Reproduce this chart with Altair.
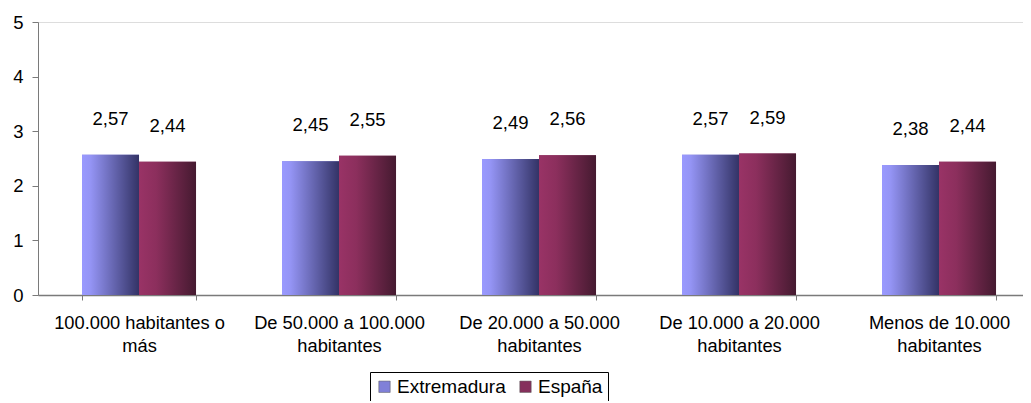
import altair as alt
import pandas as pd

categories = [
    "100.000 habitantes o|más",
    "De 50.000 a 100.000|habitantes",
    "De 20.000 a 50.000|habitantes",
    "De 10.000 a 20.000|habitantes",
    "Menos de 10.000|habitantes",
]
series = ["Extremadura", "España"]
extremadura = [2.57, 2.45, 2.49, 2.57, 2.38]
espana = [2.44, 2.55, 2.56, 2.59, 2.44]

rows = []
for c, v in zip(categories, extremadura):
    rows.append({"cat": c, "serie": series[0], "value": v})
for c, v in zip(categories, espana):
    rows.append({"cat": c, "serie": series[1], "value": v})
df = pd.DataFrame(rows)

FONT = "Liberation Sans"

x = alt.X("cat:N", sort=categories, title=None,
          scale=alt.Scale(paddingInner=0.43, paddingOuter=0.1775, align=0.62),
          axis=alt.Axis(labelAngle=0, tickBand="extent", labelExpr="split(datum.label, '|')",
                        labelFontSize=18.3, labelLineHeight=23, labelPadding=14, labelColor="#000",
                        domainColor="#7a7a7a", domainWidth=1.5, tickColor="#7a7a7a", tickSize=5,
                        labelFont=FONT))
xo = alt.XOffset("serie:N", sort=series, scale=alt.Scale(domain=series, paddingInner=0, paddingOuter=0))
y = alt.Y("value:Q", title=None,
          scale=alt.Scale(domain=[0, 5], nice=False),
          axis=alt.Axis(values=[0, 1, 2, 3, 4, 5], grid=False, tickSize=6, labelFontSize=18.5,
                        labelPadding=9, labelColor="#000", domainColor="#7a7a7a",
                        tickColor="#7a7a7a", labelFont=FONT))

base = alt.Chart(df)

solid = base.mark_bar().encode(
    x=x, xOffset=xo, y=y,
    color=alt.Color("serie:N", sort=series,
                    scale=alt.Scale(domain=series, range=["#8080d8", "#85305c"]),
                    legend=alt.Legend(title=None, orient="none", legendX=332, legendY=350,
                                      direction="horizontal", symbolType="square",
                                      symbolSize=130, symbolStrokeColor="#555",
                                      symbolStrokeWidth=0.5, labelFontSize=19,
                                      labelFont=FONT, labelColor="#000",
                                      strokeColor="#000", padding=5, columnPadding=10,
                                      symbolOffset=0, labelOffset=3)),
)

grad_ext = alt.LinearGradient(
    gradient="linear", x1=0, x2=1, y1=0, y2=0,
    stops=[alt.GradientStop(offset=0, color="#9999ff"),
           alt.GradientStop(offset=0.15, color="#9494f4"),
           alt.GradientStop(offset=1, color="#333366")])
grad_esp = alt.LinearGradient(
    gradient="linear", x1=0, x2=1, y1=0, y2=0,
    stops=[alt.GradientStop(offset=0, color="#993366"),
           alt.GradientStop(offset=0.3, color="#8c2f5d"),
           alt.GradientStop(offset=1, color="#451a30")])

bar_ext = base.transform_filter(alt.datum.serie == series[0]).mark_bar(color=grad_ext).encode(
    x=x, xOffset=xo, y=y)
bar_esp = base.transform_filter(alt.datum.serie == series[1]).mark_bar(color=grad_esp).encode(
    x=x, xOffset=xo, y=y)

labels = base.transform_calculate(
    label="replace(format(datum.value, '.2f'), '.', ',')"
).mark_text(dy=-36, baseline="middle", fontSize=18.5, font=FONT, color="#000").encode(
    x=x, xOffset=xo, y=y, text="label:N")

chart = alt.layer(solid, bar_ext, bar_esp, labels).properties(
    width=985, height=273,
    autosize=alt.AutoSizeParams(type="none"),
    padding={"left": 30, "top": 14, "right": 0, "bottom": 106},
).configure_view(stroke=None).configure(background="white")

chart.save("out.html", embed_options={"renderer": "svg", "actions": False})
